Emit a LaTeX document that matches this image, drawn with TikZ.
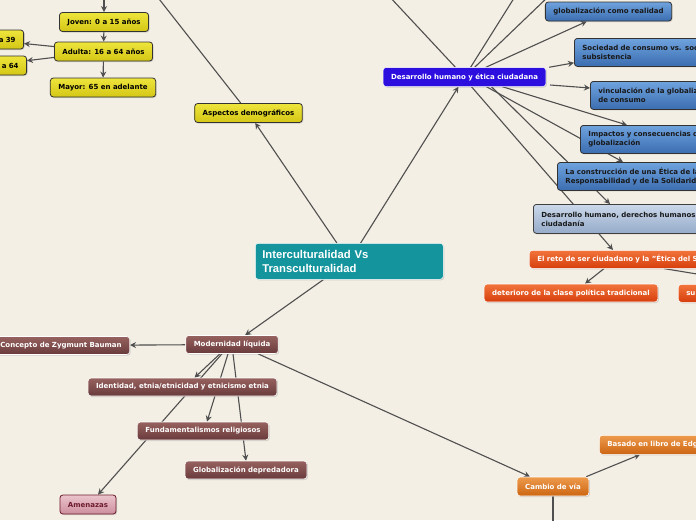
\documentclass[tikz,border=0pt]{standalone}
\usepackage{fontspec}
\setmainfont{DejaVu Sans}
\newfontfamily\titlefont{Liberation Sans}
\usetikzlibrary{arrows.meta,shadows}

\definecolor{paper}{HTML}{F4EFE4}
\definecolor{wire}{HTML}{4F4F4F}
\definecolor{yeltop}{HTML}{EEE53C}
\definecolor{yelbot}{HTML}{D4C615}
\definecolor{bluetop}{HTML}{6FA3DE}
\definecolor{bluebot}{HTML}{3B6DB0}
\definecolor{paletop}{HTML}{CBD8EA}
\definecolor{palebot}{HTML}{95ABC9}
\definecolor{redtop}{HTML}{F2743C}
\definecolor{redbot}{HTML}{D63E0C}
\definecolor{orgtop}{HTML}{EE9B4C}
\definecolor{orgbot}{HTML}{CC6512}
\definecolor{browntop}{HTML}{96625F}
\definecolor{brownbot}{HTML}{693A3B}
\definecolor{pinktop}{HTML}{EBC4CC}
\definecolor{pinkbot}{HTML}{CC8E9C}
\definecolor{wine}{HTML}{6E1B2E}
\definecolor{centralc}{HTML}{14959E}
\definecolor{indigoc}{HTML}{2C0FDF}

\pgfdeclarelayer{back}
\pgfsetlayers{back,main}

\tikzset{
    box/.style={rounded corners=3pt, inner xsep=8pt, inner ysep=0pt, minimum height=19pt,
        font=\bfseries\fontsize{7}{9}\selectfont,
        drop shadow={opacity=0.3, shadow xshift=1pt, shadow yshift=-1pt}},
    ybox/.style={box, draw=black!80, line width=0.8pt, top color=yeltop, bottom color=yelbot, text=black},
    bbox/.style={box, draw=black!80, line width=0.8pt, top color=bluetop, bottom color=bluebot, text=black!90},
    bbox2/.style={bbox, anchor=north west, text width=200pt, align=left, minimum height=28pt},
    pbox/.style={box, draw=black!75, line width=0.8pt, top color=paletop, bottom color=palebot, text=black!90,
        anchor=north west, text width=200pt, align=left, minimum height=29pt},
    rbox/.style={box, draw=white, line width=0.6pt, top color=redtop, bottom color=redbot, text=white, minimum height=18pt},
    obox/.style={box, draw=white, line width=0.6pt, top color=orgtop, bottom color=orgbot, text=white},
    mbox/.style={box, draw=white, line width=0.6pt, top color=browntop, bottom color=brownbot, text=white, minimum height=18pt},
    link/.style={draw=wire, line width=1.1pt},
    arr/.style={link, -{Stealth[length=6pt, width=6pt]}},
}

\begin{document}
\begin{tikzpicture}[x=1pt, y=-1pt]
    \useasboundingbox (0,0) rectangle (696,520);
    \clip (0,0) rectangle (696,520);

    % central topic
    \node[box, fill=centralc, draw=white, line width=0.5pt, anchor=north west, text width=174pt, align=left,
        minimum height=36pt, inner xsep=7pt, text=white, font=\titlefont\bfseries\fontsize{11.3}{14}\selectfont]
        (central) at (255,243) {Interculturalidad Vs\\Transculturalidad};

    % aspectos demograficos
    \node[ybox] (aspectos) at (248.5,113) {Aspectos demográficos};
    \node[ybox] (joven) at (104,22) {Joven: 0 a 15 años};
    \node[ybox] (adulta) at (103.5,51.5) {Adulta: 16 a 64 años};
    \node[ybox] (mayor) at (103,87.5) {Mayor: 65 en adelante};
    \node[ybox, anchor=east, text width=64pt, align=right] (adjoven) at (24,39.5) {a 39};
    \node[ybox, anchor=east, text width=64pt, align=right] (admayor) at (27,65.5) {a 64};
    \coordinate (jv-up) at (104,-8);
    \coordinate (as-up) at (152,-10);

    % desarrollo humano
    \node[box, fill=indigoc, draw=white, line width=0.5pt, text=white] (desarrollo) at (464.5,77) {Desarrollo humano y ética ciudadana};
    \node[bbox] (realidad) at (608.5,11.5) {globalización como realidad};
    \node[bbox2] (sociedad) at (574,38) {Sociedad de consumo vs. soc\\subsistencia};
    \node[bbox2] (vinculacion) at (590,81) {vinculación de la globaliz\\de consumo};
    \node[bbox2] (impactos) at (580,125) {Impactos y consecuencias d\\globalización};
    \node[bbox2] (construccion) at (557,162) {La construcción de una Ética de la\\Responsabilidad y de la Solidarid};
    \node[pbox] (derechos) at (533,204) {Desarrollo humano, derechos humanos\\ciudadanía};
    \node[rbox, anchor=north west, text width=250pt, align=left] (reto) at (529,250) {El reto de ser ciudadano y la "Ética del S};
    \node[rbox] (deterioro) at (571,293) {deterioro de la clase política tradicional};
    \node[rbox, anchor=north west, text width=100pt, align=left] (surge) at (678,284) {su};
    \coordinate (ds-a) at (388,-5);
    \coordinate (ds-b) at (516,-5);
    \coordinate (ds-c) at (550,-5);

    % modernidad liquida
    \node[mbox] (modernidad) at (232,344.5) {Modernidad líquida};
    \node[mbox, anchor=east] (bauman) at (130,345.5) {Concepto de Zygmunt Bauman};
    \node[mbox] (identidad) at (182.5,387) {Identidad, etnia/etnicidad y etnicismo etnia};
    \node[mbox] (fundamentalismos) at (203,431) {Fundamentalismos religiosos};
    \node[mbox] (depredadora) at (246,470) {Globalización depredadora};
    \node[box, draw=wine, line width=0.8pt, top color=pinktop, bottom color=pinkbot, text=wine] (amenazas) at (88,504.5) {Amenazas};
    \node[obox] (cambio) at (553,486.5) {Cambio de vía};
    \node[obox, anchor=north west, text width=120pt, align=left] (basado) at (599,435) {Basado en libro de Edg};
    \coordinate (cb-down) at (553,530);

    \begin{pgfonlayer}{back}
        \clip (0,0) rectangle (696,520);
        \fill[paper] (0,0) rectangle (696,520);

        \draw[arr] (central) -- (aspectos);
        \draw[arr] (central) -- (desarrollo);
        \draw[arr] (central) -- (modernidad);

        \draw[link] (aspectos) -- (as-up);
        \draw[arr] (jv-up) -- (joven);
        \draw[arr] (joven) -- (adulta);
        \draw[arr] (adulta) -- (mayor);
        \draw[arr] (adulta) -- (adjoven);
        \draw[arr] (adulta) -- (admayor);

        \draw[link] (desarrollo) -- (ds-a);
        \draw[link] (desarrollo) -- (ds-b);
        \draw[link] (desarrollo) -- (ds-c);
        \draw[arr] (desarrollo) -- (realidad);
        \draw[arr] ([xshift=3pt]desarrollo.north east) -- ([yshift=4pt]sociedad.south west);
        \draw[arr] ([xshift=4pt,yshift=-8pt]desarrollo.east) -- ([yshift=-7pt]vinculacion.north west);
        \draw[arr] ([xshift=38pt]desarrollo.south) -- ([xshift=47pt]impactos.north west);
        \draw[arr] ([xshift=22pt]desarrollo.south) -- ([xshift=66pt]construccion.north west);
        \draw[arr] ([xshift=27pt]desarrollo.south) -- ([xshift=77pt]derechos.north west);
        \draw[arr] ([xshift=7pt]desarrollo.south) -- ([xshift=84pt]reto.north west);
        \draw[arr] ([xshift=75pt]reto.south west) -- ([xshift=14pt]deterioro.north);
        \draw[arr] ([xshift=135pt]reto.south west) -- ([xshift=80pt]surge.north west);

        \draw[arr] (modernidad) -- (bauman);
        \draw[arr] ([xshift=-12pt]modernidad.south) -- ([xshift=12pt]identidad.north);
        \draw[arr] ([xshift=-10pt]modernidad.south) -- ([xshift=10pt]amenazas.north);
        \draw[arr] ([xshift=-4pt]modernidad.south) -- ([xshift=4pt]fundamentalismos.north);
        \draw[arr] ([xshift=1pt]modernidad.south) -- (depredadora.north);
        \draw[arr] ([xshift=26pt]modernidad.south) -- ([xshift=-23pt]cambio.north);
        \draw[arr] ([xshift=-3pt]cambio.north east) -- ([xshift=41pt]basado.south west);
        \draw[link] (cambio) -- (cb-down);
    \end{pgfonlayer}
\end{tikzpicture}
\end{document}
